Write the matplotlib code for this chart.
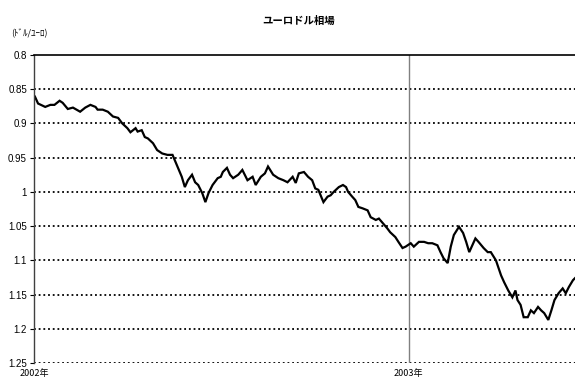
import numpy as np
import matplotlib
matplotlib.use("Agg")
import matplotlib.pyplot as plt

plt.rcParams['font.family'] = ['Noto Sans CJK JP', 'DejaVu Sans']

# days since 2002-01-01 and USD per EUR values
days = [1, 4, 11, 16, 20, 25, 28, 33, 38, 45, 50, 55, 60, 62, 67, 72, 77, 82, 86, 91,
        94, 99, 101, 105, 108, 111, 116, 120, 125, 130, 135, 140, 144, 147, 150, 154,
        157, 160, 164, 167, 170, 174, 179, 182, 184, 188, 191, 194, 199, 203, 208, 213,
        216, 221, 225, 228, 233, 238, 243, 247, 252, 255, 258, 263, 267, 271, 274, 277,
        282, 286, 289, 292, 297, 301, 304, 306, 310, 313, 316, 320, 325, 328, 333, 336,
        340, 344, 347, 352, 355, 359, 362, 367, 370, 375, 380, 384, 388, 393, 396, 399,
        403, 406, 409, 414, 418, 421, 424, 427, 430, 433, 438, 442, 445, 450, 455, 458,
        462, 466, 469, 471, 474, 477, 481, 484, 487, 491, 494, 497, 501, 504, 507, 511,
        515, 518, 521, 525, 527]
rate = [0.861, 0.871, 0.876, 0.873, 0.873, 0.867, 0.870, 0.879, 0.877, 0.883, 0.877, 0.873,
        0.876, 0.880, 0.880, 0.883, 0.890, 0.892, 0.900, 0.907, 0.913, 0.907, 0.912, 0.910,
        0.920, 0.922, 0.929, 0.939, 0.944, 0.946, 0.946, 0.964, 0.978, 0.993, 0.983, 0.975,
        0.986, 0.990, 1.002, 1.015, 1.002, 0.990, 0.980, 0.978, 0.971, 0.965, 0.975, 0.980,
        0.975, 0.968, 0.983, 0.978, 0.990, 0.978, 0.973, 0.963, 0.975, 0.980, 0.983, 0.986,
        0.978, 0.987, 0.973, 0.971, 0.978, 0.983, 0.995, 0.997, 1.015, 1.007, 1.005, 1.000,
        0.993, 0.990, 0.993, 1.000, 1.007, 1.012, 1.022, 1.024, 1.027, 1.037, 1.041, 1.039,
        1.046, 1.053, 1.059, 1.066, 1.073, 1.082, 1.080, 1.075, 1.080, 1.073, 1.073, 1.075,
        1.075, 1.078, 1.088, 1.097, 1.104, 1.080, 1.063, 1.051, 1.060, 1.073, 1.088, 1.078,
        1.068, 1.073, 1.082, 1.088, 1.088, 1.100, 1.122, 1.132, 1.144, 1.154, 1.144, 1.158,
        1.165, 1.183, 1.183, 1.173, 1.177, 1.168, 1.173, 1.177, 1.187, 1.173, 1.158, 1.148,
        1.141, 1.148, 1.139, 1.129, 1.126]
yticks = [0.8, 0.85, 0.9, 0.95, 1.0, 1.05, 1.1, 1.15, 1.2, 1.25]
ytick_labels = ['0.8', '0.85', '0.9', '0.95', '1', '1.05', '1.1', '1.15', '1.2', '1.25']
year_marks = ['2002-01-01', '2003-01-01']
year_labels = ['2002年', '2003年']
title = 'ユーロドル相場'
unit = '(ﾄﾞﾙ/ﾕｰﾛ)'

dates = np.datetime64('2002-01-01') + np.array(days).astype('timedelta64[D]')

fig = plt.figure(figsize=(5.75, 3.81), dpi=100)
ax = fig.add_axes([0.059, 0.047, 0.941, 0.809])

ax.plot(dates, rate, color='black', lw=1.6, solid_joinstyle='miter')

ax.set_ylim(1.25, 0.8)
ax.set_xlim(np.datetime64('2002-01-01'), np.datetime64('2003-06-12'))

ax.set_yticks(yticks)
ax.set_yticklabels(ytick_labels, family=['Liberation Sans', 'DejaVu Sans'], fontsize=7)
for y in yticks[1:]:
    ax.axhline(y, color='black', lw=1.3, ls=(0, (1, 1.6)), zorder=1)

xm = [np.datetime64(d) for d in year_marks]
ax.axvline(xm[1], color='#808080', lw=1.0, zorder=1)
ax.set_xticks(xm)
ax.set_xticklabels(year_labels, fontsize=6.5)
ax.tick_params(axis='x', length=0, pad=4)
ax.tick_params(axis='y', length=3, direction='out', pad=2, width=0.8)

for s in ['right', 'bottom']:
    ax.spines[s].set_visible(False)
ax.spines['top'].set_linewidth(1.2)
ax.spines['left'].set_linewidth(1.0)
ax.spines['left'].set_color('#404040')

fig.text(0.52, 0.945, title, ha='center', va='center', fontsize=7.5, fontweight='bold')
fig.text(0.02, 0.912, unit, ha='left', va='center', fontsize=6.5)

fig.savefig('out.png', dpi=100)
